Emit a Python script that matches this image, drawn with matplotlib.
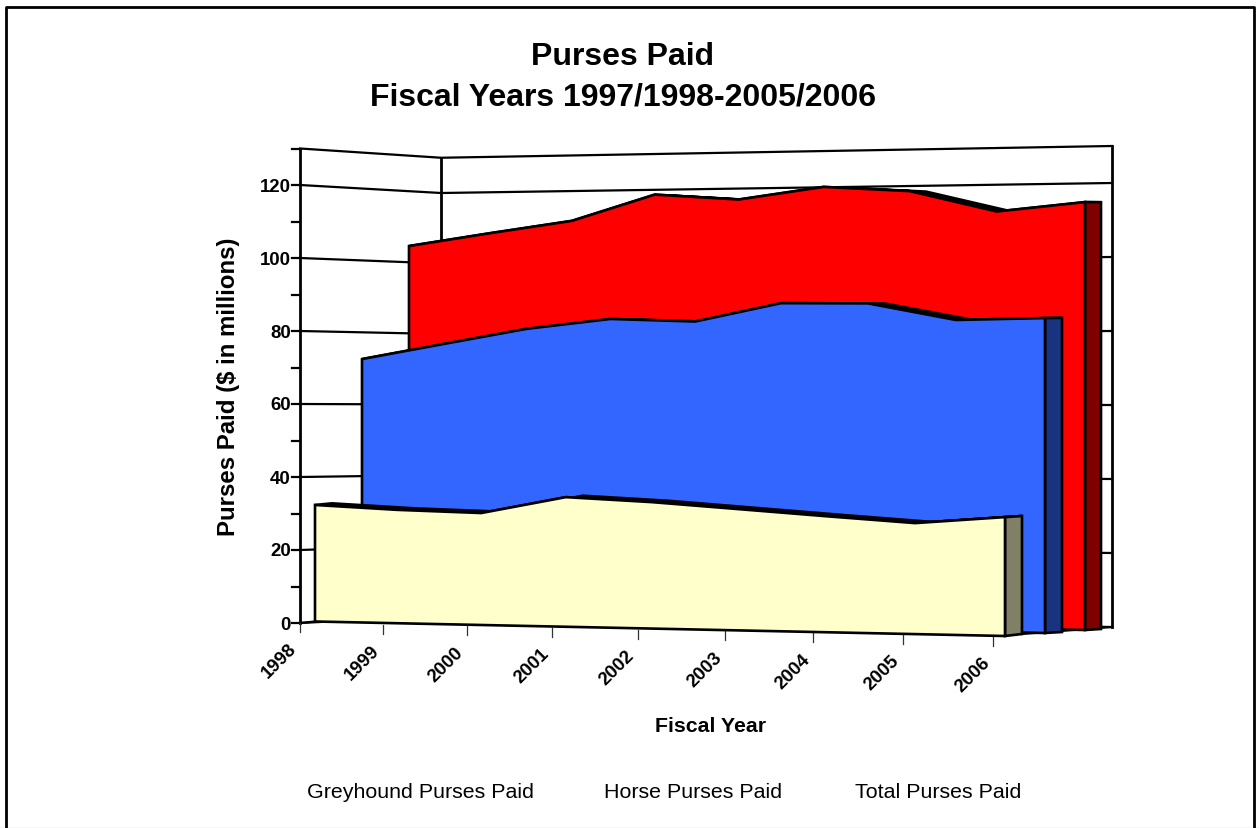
import matplotlib
matplotlib.use("Agg")
import matplotlib.pyplot as plt
from matplotlib.patches import Polygon

plt.rcParams['font.family'] = ['Liberation Sans', 'DejaVu Sans']

# data
years = ['1998', '1999', '2000', '2001', '2002', '2003', '2004', '2005', '2006']
greyhound = [32.1, 30.9, 30.2, 34.6, 33.4, 31.7, 30.0, 28.4, 30.1]
horse = [72.8, 76.8, 80.7, 83.1, 82.1, 86.7, 86.3, 81.6, 81.8]
total = [105.7, 108.8, 111.7, 118.4, 116.4, 119.2, 117.4, 111.3, 113.2]
y_ticks = [0, 20, 40, 60, 80, 100, 120]
y_minor = [10, 30, 50, 70, 90, 110, 130]

# fake 3d: each plane is (x left, x right, y0 left, y0 right, scale left, scale right) in pixels
GREY_FRONT = (315, 1005, 622.5, 637, 3.63, 3.95)
GREY_BACK = (332, 1022, 621.5, 635, 3.65, 3.92)
HORSE_FRONT = (362, 1045, 620, 634, 3.57, 3.85)
HORSE_BACK = (379, 1062, 619, 633, 3.55, 3.84)
TOTAL_FRONT = (409, 1085, 617, 631, 3.50, 3.78)
TOTAL_BACK = (426, 1101, 616, 630, 3.48, 3.77)
AXIS_PLANE = (300, 993, 624, 637.5, 3.65, 3.95)

LEFT_WALL = (300, 441, 624, 617, 3.65, 3.525)
BACK_WALL = (441, 1112, 617, 628, 3.525, 3.70)

LW = 1.6
LW_SERIE = 1.9


def warp(i, n):
    # perspective spacing along the x axis
    b = 0.00599
    return (i / (1 - b * i)) / (n / (1 - b * n))


def project(plane, i, v, n):
    xl, xr, y0l, y0r, sl, sr = plane
    u = warp(i, n)
    y0 = y0l + (y0r - y0l) * u
    s = sl + (sr - sl) * u
    return xl + (xr - xl) * u, y0 - v * s


def wall_point(plane, u, v):
    xl, xr, y0l, y0r, sl, sr = plane
    y0 = y0l + (y0r - y0l) * u
    s = sl + (sr - sl) * u
    return xl + (xr - xl) * u, y0 - v * s


def draw_series(ax, values, front, back, col, col_side, z):
    n = len(values) - 1
    top_f = [project(front, i, v, n) for i, v in enumerate(values)]
    top_b = [project(back, i, v, n) for i, v in enumerate(values)]
    bot_fl = project(front, 0, 0, n)
    bot_fr = project(front, n, 0, n)
    bot_br = project(back, n, 0, n)
    # top face, nearly edge on so it reads as a thick black line
    ax.add_patch(Polygon(top_f + top_b[::-1], closed=True, fc='black', ec='black', lw=LW_SERIE, zorder=z))
    # side
    ax.add_patch(Polygon([top_f[-1], top_b[-1], bot_br, bot_fr], closed=True, fc=col_side, ec='black',
                         lw=LW_SERIE, joinstyle='miter', zorder=z + 0.1))
    # front
    ax.add_patch(Polygon(top_f + [bot_fr, bot_fl], closed=True, fc=col, ec='black', lw=LW_SERIE,
                         joinstyle='miter', zorder=z + 0.2))


fig = plt.figure(figsize=(12.59, 8.29), dpi=100)
ax = fig.add_axes([0, 0, 1, 1])
ax.set_xlim(0, 1259)
ax.set_ylim(829, 0)
ax.axis('off')

# outer frame, the bottom edge is only a thin grey line
ax.plot([6.5, 6.5, 1254, 1254], [829, 8, 8, 829], color='black', lw=2.0, zorder=0)
ax.plot([0, 1259], [828.5, 828.5], color='#666666', lw=0.8, zorder=0)

# walls and grid
for v in y_ticks + [130]:
    p0 = wall_point(LEFT_WALL, 0, v)
    p1 = wall_point(LEFT_WALL, 1, v)
    p2 = wall_point(BACK_WALL, 1, v)
    ax.plot([p0[0], p1[0], p2[0]], [p0[1], p1[1], p2[1]], color='black', lw=LW, zorder=1)

for wall, u in [(LEFT_WALL, 0), (LEFT_WALL, 1), (BACK_WALL, 1)]:
    p0 = wall_point(wall, u, 0)
    p1 = wall_point(wall, u, 130)
    ax.plot([p0[0], p1[0]], [p0[1], p1[1]], color='black', lw=LW + 0.4, zorder=1)

# y ticks
for v in y_ticks + y_minor:
    x, y = wall_point(LEFT_WALL, 0, v)
    ax.plot([x - 8, x], [y, y], color='black', lw=LW, zorder=1)
for v in y_ticks:
    x, y = wall_point(LEFT_WALL, 0, v)
    ax.text(x - 9, y + 1, str(v), ha='right', va='center', fontsize=13.4, fontweight='bold')

# floor
n = len(years) - 1
p0 = project(GREY_BACK, n, 0, n)
p1 = wall_point(BACK_WALL, 1, 0)
ax.plot([p0[0], p1[0]], [p0[1], p1[1]], color='black', lw=LW, zorder=1)
p0 = wall_point(LEFT_WALL, 0, 0)
p1 = project(GREY_FRONT, 0, 0, n)
ax.plot([p0[0], p1[0]], [p0[1], p1[1]], color='black', lw=LW, zorder=1)

# series, back to front
draw_series(ax, total, TOTAL_FRONT, TOTAL_BACK, '#ff0000', '#800000', 2)
draw_series(ax, horse, HORSE_FRONT, HORSE_BACK, '#3366ff', '#1a3380', 3)
draw_series(ax, greyhound, GREY_FRONT, GREY_BACK, '#ffffcc', '#808066', 4)

# x ticks
for i, yr in enumerate(years):
    x, y = project(AXIS_PLANE, i, 0, n)
    ax.plot([x, x], [y, y + 9], color='#333333', lw=0.9, zorder=1)
    ax.text(x - 12, y + 17, yr, rotation=45, rotation_mode='anchor', ha='right', va='top',
            fontsize=13.4, fontweight='bold')

# texts
ax.text(623, 57, 'Purses Paid', ha='center', va='center', fontsize=23, fontweight='bold')
ax.text(623, 97, 'Fiscal Years 1997/1998-2005/2006', ha='center', va='center', fontsize=23, fontweight='bold')
ax.text(229, 387, 'Purses Paid ($ in millions)', rotation=90, ha='center', va='center',
        fontsize=17.3, fontweight='bold')
ax.text(711, 727, 'Fiscal Year', ha='center', va='center', fontsize=15.3, fontweight='bold')

ax.text(420.5, 793, 'Greyhound Purses Paid', ha='center', va='center', fontsize=15.4)
ax.text(693, 793, 'Horse Purses Paid', ha='center', va='center', fontsize=15.4)
ax.text(938, 793, 'Total Purses Paid', ha='center', va='center', fontsize=15.4)

fig.savefig('out.png', dpi=100)
plt.close(fig)
